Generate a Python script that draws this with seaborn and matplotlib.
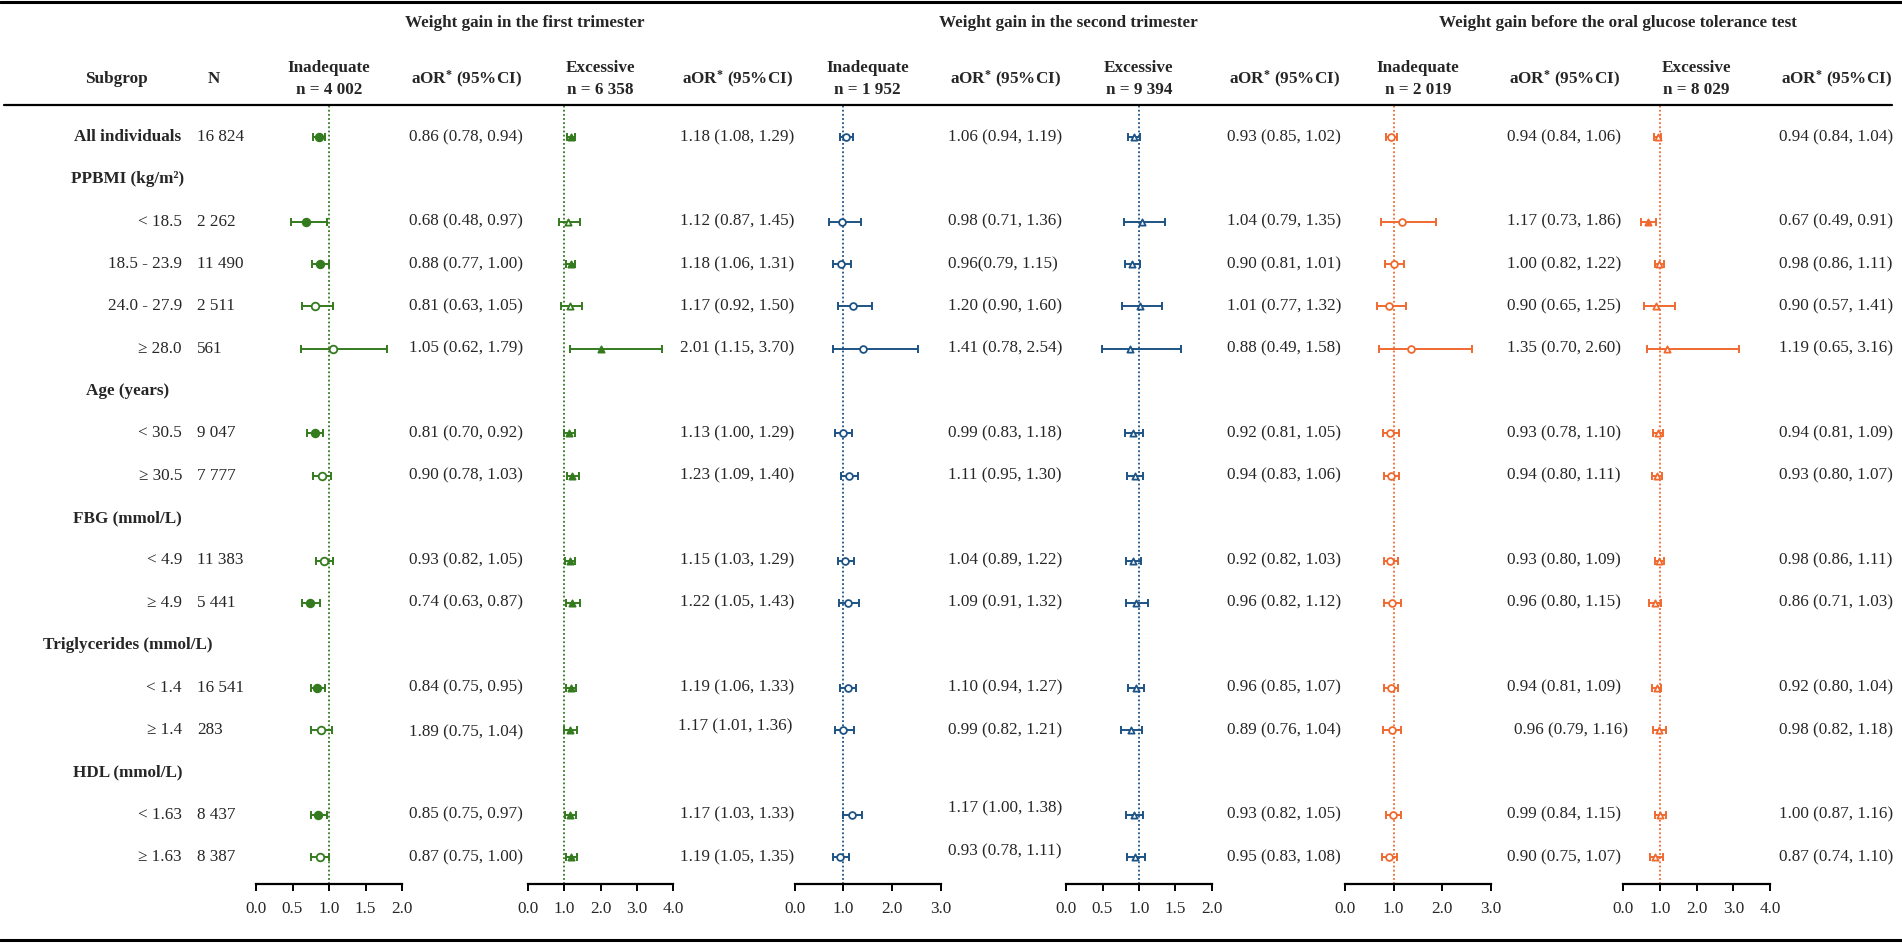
import numpy as np
import pandas as pd
import matplotlib
matplotlib.use("Agg")
import matplotlib.pyplot as plt
from matplotlib.lines import Line2D
import seaborn as sns

# ---------------- data ----------------
row_labels = ["All individuals", "PPBMI (kg/m²)", "< 18.5", "18.5 - 23.9", "24.0 - 27.9", "≥ 28.0",
              "Age (years)", "< 30.5", "≥ 30.5", "FBG (mmol/L)", "< 4.9", "≥ 4.9",
              "Triglycerides (mmol/L)", "< 1.4", "≥ 1.4", "HDL (mmol/L)", "< 1.63", "≥ 1.63"]
row_is_header = [1, 1, 0, 0, 0, 0, 1, 0, 0, 1, 0, 0, 1, 0, 0, 1, 0, 0]
n_values = ["16 824", "", "2 262", "11 490", "2 511", "561", "", "9 047", "7 777", "",
            "11 383", "5 441", "", "16 541", "283", "", "8 437", "8 387"]
data_rows = [0, 2, 3, 4, 5, 7, 8, 10, 11, 13, 14, 16, 17]

group_titles = ["Weight gain in the first trimester", "Weight gain in the second trimester",
                "Weight gain before the oral glucose tolerance test"]
panel_titles = ["Inadequate\nn = 4 002", "Excessive\nn = 6 358", "Inadequate\nn = 1 952",
                "Excessive\nn = 9 394", "Inadequate\nn = 2 019", "Excessive\nn = 8 029"]

# first trimester, inadequate
t1_inad_est = [0.86, 0.68, 0.88, 0.81, 1.05, 0.81, 0.90, 0.93, 0.74, 0.84, 0.89, 0.85, 0.87]
t1_inad_lo = [0.78, 0.48, 0.77, 0.63, 0.62, 0.70, 0.78, 0.82, 0.63, 0.75, 0.75, 0.75, 0.75]
t1_inad_hi = [0.94, 0.97, 1.00, 1.05, 1.79, 0.92, 1.03, 1.05, 0.87, 0.95, 1.04, 0.97, 1.00]
t1_inad_fill = [1, 1, 1, 0, 0, 1, 0, 0, 1, 1, 0, 1, 0]
t1_inad_txt = ["0.86 (0.78, 0.94)", "0.68 (0.48, 0.97)", "0.88 (0.77, 1.00)", "0.81 (0.63, 1.05)",
               "1.05 (0.62, 1.79)", "0.81 (0.70, 0.92)", "0.90 (0.78, 1.03)", "0.93 (0.82, 1.05)",
               "0.74 (0.63, 0.87)", "0.84 (0.75, 0.95)", "1.89 (0.75, 1.04)", "0.85 (0.75, 0.97)",
               "0.87 (0.75, 1.00)"]
# first trimester, excessive
t1_exc_est = [1.18, 1.12, 1.18, 1.17, 2.01, 1.13, 1.23, 1.15, 1.22, 1.19, 1.17, 1.17, 1.19]
t1_exc_lo = [1.08, 0.87, 1.06, 0.92, 1.15, 1.00, 1.09, 1.03, 1.05, 1.06, 1.01, 1.03, 1.05]
t1_exc_hi = [1.29, 1.45, 1.31, 1.50, 3.70, 1.29, 1.40, 1.29, 1.43, 1.33, 1.36, 1.33, 1.35]
t1_exc_fill = [1, 0, 1, 0, 1, 1, 1, 1, 1, 1, 1, 1, 1]
t1_exc_txt = ["1.18 (1.08, 1.29)", "1.12 (0.87, 1.45)", "1.18 (1.06, 1.31)", "1.17 (0.92, 1.50)",
              "2.01 (1.15, 3.70)", "1.13 (1.00, 1.29)", "1.23 (1.09, 1.40)", "1.15 (1.03, 1.29)",
              "1.22 (1.05, 1.43)", "1.19 (1.06, 1.33)", "1.17 (1.01, 1.36)", "1.17 (1.03, 1.33)",
              "1.19 (1.05, 1.35)"]
# second trimester, inadequate
t2_inad_est = [1.06, 0.98, 0.96, 1.20, 1.41, 0.99, 1.11, 1.04, 1.09, 1.10, 0.99, 1.17, 0.93]
t2_inad_lo = [0.94, 0.71, 0.79, 0.90, 0.78, 0.83, 0.95, 0.89, 0.91, 0.94, 0.82, 1.00, 0.78]
t2_inad_hi = [1.19, 1.36, 1.15, 1.60, 2.54, 1.18, 1.30, 1.22, 1.32, 1.27, 1.21, 1.38, 1.11]
t2_inad_fill = [0] * 13
t2_inad_txt = ["1.06 (0.94, 1.19)", "0.98 (0.71, 1.36)", "0.96(0.79, 1.15)", "1.20 (0.90, 1.60)",
               "1.41 (0.78, 2.54)", "0.99 (0.83, 1.18)", "1.11 (0.95, 1.30)", "1.04 (0.89, 1.22)",
               "1.09 (0.91, 1.32)", "1.10 (0.94, 1.27)", "0.99 (0.82, 1.21)", "1.17 (1.00, 1.38)",
               "0.93 (0.78, 1.11)"]
# second trimester, excessive
t2_exc_est = [0.93, 1.04, 0.90, 1.01, 0.88, 0.92, 0.94, 0.92, 0.96, 0.96, 0.89, 0.93, 0.95]
t2_exc_lo = [0.85, 0.79, 0.81, 0.77, 0.49, 0.81, 0.83, 0.82, 0.82, 0.85, 0.76, 0.82, 0.83]
t2_exc_hi = [1.02, 1.35, 1.01, 1.32, 1.58, 1.05, 1.06, 1.03, 1.12, 1.07, 1.04, 1.05, 1.08]
t2_exc_fill = [0] * 13
t2_exc_txt = ["0.93 (0.85, 1.02)", "1.04 (0.79, 1.35)", "0.90 (0.81, 1.01)", "1.01 (0.77, 1.32)",
              "0.88 (0.49, 1.58)", "0.92 (0.81, 1.05)", "0.94 (0.83, 1.06)", "0.92 (0.82, 1.03)",
              "0.96 (0.82, 1.12)", "0.96 (0.85, 1.07)", "0.89 (0.76, 1.04)", "0.93 (0.82, 1.05)",
              "0.95 (0.83, 1.08)"]
# before OGTT, inadequate
og_inad_est = [0.94, 1.17, 1.00, 0.90, 1.35, 0.93, 0.94, 0.93, 0.96, 0.94, 0.96, 0.99, 0.90]
og_inad_lo = [0.84, 0.73, 0.82, 0.65, 0.70, 0.78, 0.80, 0.80, 0.80, 0.81, 0.79, 0.84, 0.75]
og_inad_hi = [1.06, 1.86, 1.22, 1.25, 2.60, 1.10, 1.11, 1.09, 1.15, 1.09, 1.16, 1.15, 1.07]
og_inad_fill = [0] * 13
og_inad_txt = ["0.94 (0.84, 1.06)", "1.17 (0.73, 1.86)", "1.00 (0.82, 1.22)", "0.90 (0.65, 1.25)",
               "1.35 (0.70, 2.60)", "0.93 (0.78, 1.10)", "0.94 (0.80, 1.11)", "0.93 (0.80, 1.09)",
               "0.96 (0.80, 1.15)", "0.94 (0.81, 1.09)", "0.96 (0.79, 1.16)", "0.99 (0.84, 1.15)",
               "0.90 (0.75, 1.07)"]
# before OGTT, excessive
og_exc_est = [0.94, 0.67, 0.98, 0.90, 1.19, 0.94, 0.93, 0.98, 0.86, 0.92, 0.98, 1.00, 0.87]
og_exc_lo = [0.84, 0.49, 0.86, 0.57, 0.65, 0.81, 0.80, 0.86, 0.71, 0.80, 0.82, 0.87, 0.74]
og_exc_hi = [1.04, 0.91, 1.11, 1.41, 3.16, 1.09, 1.07, 1.11, 1.03, 1.04, 1.18, 1.16, 1.10]
og_exc_fill = [0, 1, 0, 0, 0, 0, 0, 0, 0, 0, 0, 0, 0]
og_exc_txt = ["0.94 (0.84, 1.04)", "0.67 (0.49, 0.91)", "0.98 (0.86, 1.11)", "0.90 (0.57, 1.41)",
              "1.19 (0.65, 3.16)", "0.94 (0.81, 1.09)", "0.93 (0.80, 1.07)", "0.98 (0.86, 1.11)",
              "0.86 (0.71, 1.03)", "0.92 (0.80, 1.04)", "0.98 (0.82, 1.18)", "1.00 (0.87, 1.16)",
              "0.87 (0.74, 1.10)"]

tick_p1 = [0.0, 0.5, 1.0, 1.5, 2.0]
tick_p2 = [0.0, 1.0, 2.0, 3.0, 4.0]
tick_p3 = [0.0, 1.0, 2.0, 3.0]

# ---------------- style ----------------
sns.set_theme(style="white")
plt.rcParams["font.family"] = ["Liberation Serif", "DejaVu Serif"]
plt.rcParams["mathtext.fontset"] = "custom"
plt.rcParams["mathtext.rm"] = "Liberation Serif:bold"
plt.rcParams["mathtext.bf"] = "Liberation Serif:bold"
plt.rcParams["mathtext.it"] = "Liberation Serif:bold:italic"

GREEN, BLUE, ORANGE = "#347a1e", "#1d5385", "#f06a30"
W, H = 1902, 943
FS = 12.3

# slight hand-placement offsets of a few value labels in the original (panel, item) -> (dx, dy) px
text_shift = {(0, 10): (0, 2), (1, 10): (-2, -4), (2, 11): (0, -6), (2, 12): (0, -6),
              (4, 10): (7, 0)}

fig = plt.figure(figsize=(W / 100, H / 100), dpi=100)
fig.patch.set_facecolor("white")


def T(x, y, s, **kw):
    kw.setdefault("fontsize", FS)
    kw.setdefault("va", "center")
    fig.text(x / W, 1 - y / H, s, **kw)


def HL(x0, x1, y, lw):
    fig.add_artist(Line2D([x0 / W, x1 / W], [1 - y / H] * 2, color="black", lw=lw))


# rules
HL(0, W, 2, 2.2)
HL(4, 1892, 105, 1.6)
HL(0, W, 940, 2.2)

ROW0, DY = 137.0, 42.35
AX_TOP, AX_BOT = 105, 884

panels = [
    dict(est=t1_inad_est, lo=t1_inad_lo, hi=t1_inad_hi, fill=t1_inad_fill, txt=t1_inad_txt,
         ticks=tick_p1, col=GREEN, mk="o", ms=30, x0=256, w=146, tx=409),
    dict(est=t1_exc_est, lo=t1_exc_lo, hi=t1_exc_hi, fill=t1_exc_fill, txt=t1_exc_txt,
         ticks=tick_p2, col=GREEN, mk="^", ms=20, x0=527.7, w=145.6, tx=680),
    dict(est=t2_inad_est, lo=t2_inad_lo, hi=t2_inad_hi, fill=t2_inad_fill, txt=t2_inad_txt,
         ticks=tick_p3, col=BLUE, mk="o", ms=24, x0=794.7, w=145.8, tx=948),
    dict(est=t2_exc_est, lo=t2_exc_lo, hi=t2_exc_hi, fill=t2_exc_fill, txt=t2_exc_txt,
         ticks=tick_p1, col=BLUE, mk="^", ms=20, x0=1066, w=146, tx=1227),
    dict(est=og_inad_est, lo=og_inad_lo, hi=og_inad_hi, fill=og_inad_fill, txt=og_inad_txt,
         ticks=tick_p3, col=ORANGE, mk="o", ms=24, x0=1345, w=146, tx=1507),
    dict(est=og_exc_est, lo=og_exc_lo, hi=og_exc_hi, fill=og_exc_fill, txt=og_exc_txt,
         ticks=tick_p2, col=ORANGE, mk="^", ms=20, x0=1623, w=147, tx=1779),
]

ylim_top = (AX_TOP - ROW0) / DY
ylim_bot = (AX_BOT - ROW0) / DY

for i, p in enumerate(panels):
    ax = fig.add_axes([p["x0"] / W, 1 - AX_BOT / H, p["w"] / W, (AX_BOT - AX_TOP) / H])
    ax.set_facecolor("none")
    df = pd.DataFrame(dict(est=p["est"], lo=p["lo"], hi=p["hi"], fill=p["fill"], row=data_rows))
    ax.axvline(1.0, color=p["col"], lw=1.3, ls=(0, (1.0, 1.3)), zorder=1)
    ax.errorbar(df["est"], df["row"], xerr=[df["est"] - df["lo"], df["hi"] - df["est"]],
                fmt="none", ecolor=p["col"], elinewidth=1.4, capsize=3.2, capthick=1.4, zorder=2)
    for f, fc in [(1, p["col"]), (0, "white")]:
        sub = df[df["fill"] == f]
        if len(sub):
            sns.scatterplot(data=sub, x="est", y="row", ax=ax, marker=p["mk"], s=p["ms"],
                            color=p["col"], facecolor=fc, edgecolor=p["col"], linewidth=1.3,
                            legend=False, zorder=3)
    ax.set_xlim(0, p["ticks"][-1])
    ax.set_ylim(ylim_bot, ylim_top)
    ax.set_xticks(p["ticks"])
    ax.set_xticklabels([f"{t:.1f}" for t in p["ticks"]], fontsize=FS)
    ax.set_yticks([])
    ax.set_xlabel("")
    ax.set_ylabel("")
    for s in ["top", "left", "right"]:
        ax.spines[s].set_visible(False)
    ax.spines["bottom"].set_color("black")
    ax.spines["bottom"].set_linewidth(1.6)
    ax.tick_params(axis="x", direction="out", length=5, width=1.4, color="black", pad=7,
                   bottom=True)
    ax.tick_params(axis="y", left=False)

    # panel header
    cx = p["x0"] + p["w"] / 2
    lines = panel_titles[i].split("\n")
    T(cx, 68, lines[0], ha="center", fontweight="bold")
    T(cx, 90, lines[1], ha="center", fontweight="bold")
    # aOR column
    T(p["tx"] + 57, 79, r"aOR$^{*}$ (95%CI)", ha="center", fontweight="bold")
    for k, (r, s) in enumerate(zip(data_rows, p["txt"])):
        dx, dy = text_shift.get((i, k), (0, 0))
        T(p["tx"] + dx, ROW0 + r * DY + dy, s, ha="left")

# group titles
group_centers = [525, 1068, 1618]
for g, c in zip(group_titles, group_centers):
    T(c, 23, g, ha="center", fontweight="bold")

# left columns
T(116, 79, "Subgrop", ha="center", fontweight="bold")
T(214, 79, "N", ha="center", fontweight="bold")
for r, (lab, hd, n) in enumerate(zip(row_labels, row_is_header, n_values)):
    y = ROW0 + r * DY
    if hd:
        T(127.5, y, lab, ha="center", fontweight="bold")
    else:
        T(182, y, lab, ha="right")
    if n:
        T(197, y, n, ha="left")

fig.savefig("out.png", dpi=100, facecolor="white")
